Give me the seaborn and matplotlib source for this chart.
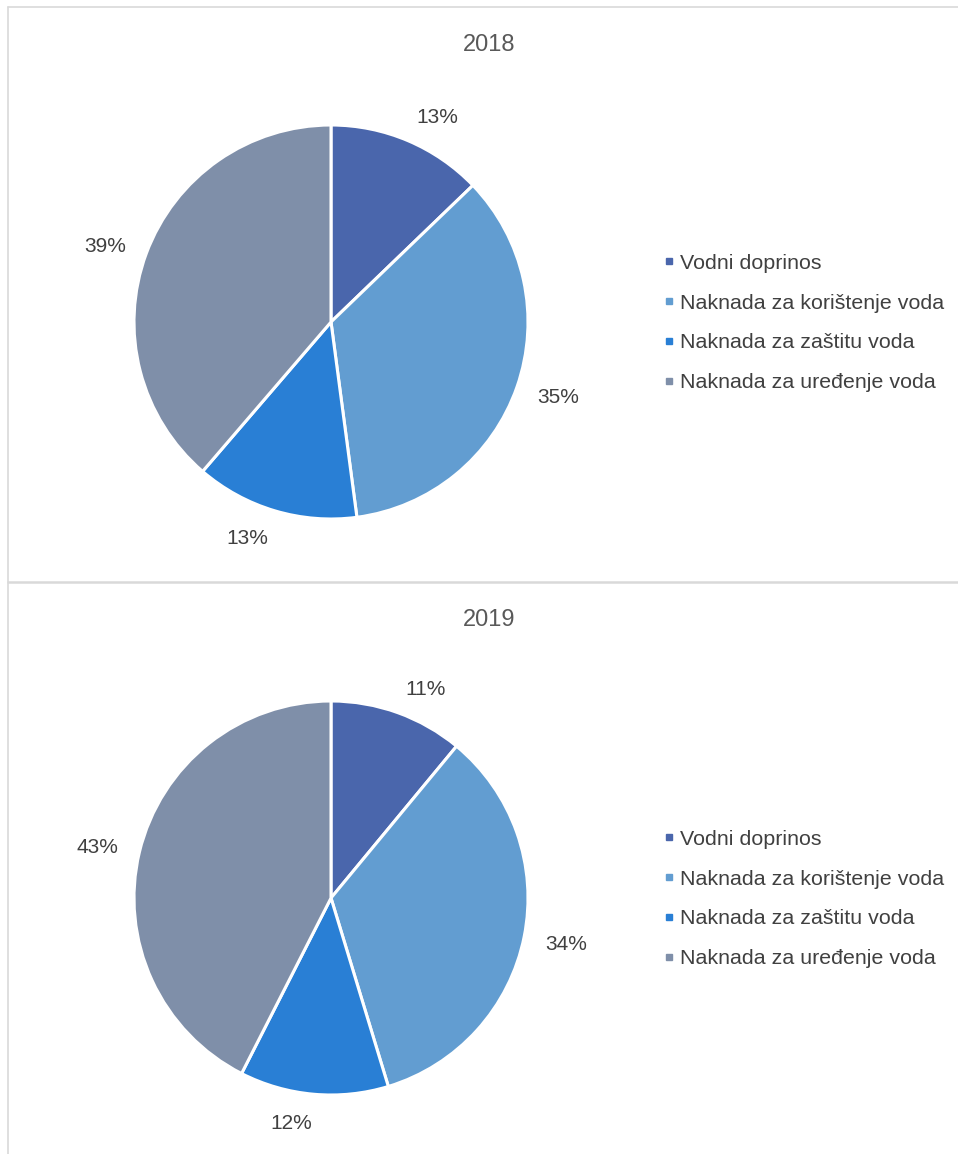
import numpy as np
import seaborn as sns
import matplotlib.pyplot as plt
from matplotlib.lines import Line2D

# Data
categories = ["Vodni doprinos", "Naknada za korištenje voda",
              "Naknada za zaštitu voda", "Naknada za uređenje voda"]
years = ["2018", "2019"]
shares_2018 = [12.8, 35.1, 13.4, 38.7]
shares_2019 = [11.0, 34.3, 12.2, 42.5]
labels_2018 = ["13%", "35%", "13%", "39%"]
labels_2019 = ["11%", "34%", "12%", "43%"]

sns.set_theme(style="white")
plt.rcParams['font.family'] = ['Liberation Sans', 'DejaVu Sans']

colors = sns.color_palette(["#4A66AC", "#629DD1", "#297FD5", "#7F8FA9"])

W, H = 958, 1154
fig = plt.figure(figsize=(W / 100, H / 100), dpi=100)

# chart borders (light grey frame lines)
border = "#D9D9D9"
fig.add_artist(Line2D([8 / W, 8 / W], [0, 1 - 7 / H], color=border, lw=1.2))
fig.add_artist(Line2D([8 / W, 1], [1 - 7 / H, 1 - 7 / H], color=border, lw=1.2))
fig.add_artist(Line2D([8 / W, 1], [1 - 582 / H, 1 - 582 / H], color=border, lw=1.8))


def draw_pie(cy, title_y, shares, labels, year):
    r = 197
    cx = 331
    ax = fig.add_axes([(cx - r) / W, (H - cy - r) / H, 2 * r / W, 2 * r / H])
    wedges, _ = ax.pie(shares, colors=colors, startangle=90, counterclock=False,
                       wedgeprops=dict(edgecolor="white", linewidth=2.2))
    # "outside end" labels placed off the wedge mid-angle
    for w, lab in zip(wedges, labels):
        phi = np.deg2rad((w.theta1 + w.theta2) / 2)
        x, y = np.cos(phi), np.sin(phi)
        ax.text(1.11 * x, 1.137 * y - 0.01, lab, fontsize=15, color="#404040",
                ha="left" if x > 0 else "right", va="center")
    ax.set_xlim(-1, 1)
    ax.set_ylim(-1, 1)
    ax.set_aspect("equal")
    ax.axis("off")

    fig.text(489 / W, 1 - title_y / H, year, ha="center", va="center",
             fontsize=17, color="#595959")

    handles = [Line2D([0], [0], marker="s", linestyle="", markersize=5,
                      markerfacecolor=c, markeredgecolor=c) for c in colors]
    fig.legend(handles, categories, loc="center left",
               bbox_to_anchor=(662.5 / W, 1 - (cy + 1) / H), frameon=False,
               fontsize=15.4, labelcolor="#404040", handlelength=0.6,
               handletextpad=0.2, labelspacing=0.97, borderaxespad=0,
               borderpad=0)


draw_pie(322, 45, shares_2018, labels_2018, years[0])
draw_pie(898, 620, shares_2019, labels_2019, years[1])

fig.savefig("out.png", dpi=100, facecolor="white")
